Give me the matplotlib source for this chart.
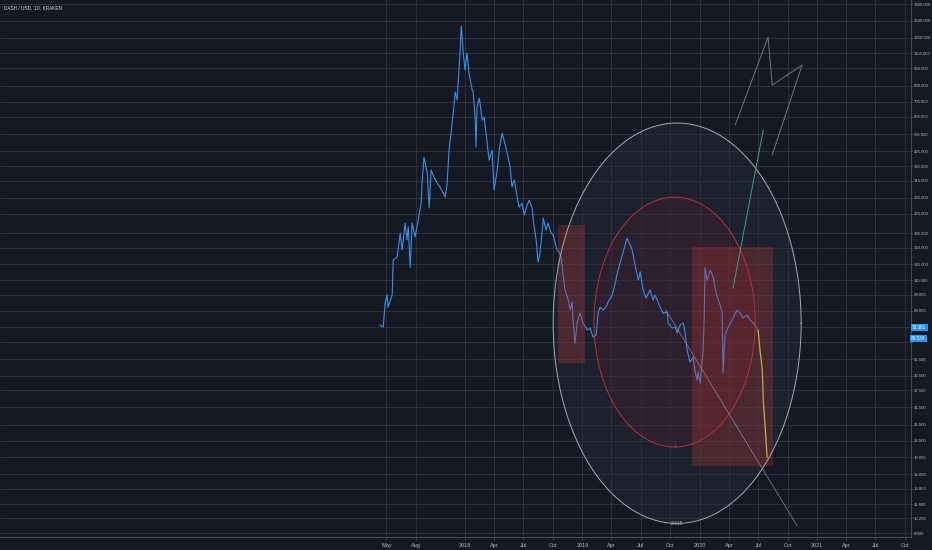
import numpy as np
import matplotlib
matplotlib.use('Agg')
import matplotlib.pyplot as plt
import matplotlib.dates as mdates
from matplotlib.patches import Rectangle
from matplotlib.transforms import blended_transform_factory

# DASH / USD close
dates = ['2017-04-11', '2017-04-21', '2017-04-27', '2017-05-03', '2017-05-06', '2017-05-19', '2017-05-22',
         '2017-06-03', '2017-06-13', '2017-06-19', '2017-06-28', '2017-07-04', '2017-07-08', '2017-07-14',
         '2017-07-20', '2017-07-29', '2017-08-08', '2017-08-17', '2017-08-20', '2017-08-26', '2017-09-05',
         '2017-09-11', '2017-09-17', '2017-09-23', '2017-10-06', '2017-10-15', '2017-10-31', '2017-11-06',
         '2017-11-12', '2017-11-25', '2017-12-01', '2017-12-07', '2017-12-16', '2017-12-20', '2017-12-26',
         '2018-01-01', '2018-01-07', '2018-01-13', '2018-01-23', '2018-01-26', '2018-02-01', '2018-02-04',
         '2018-02-07', '2018-02-14', '2018-02-23', '2018-03-01', '2018-03-07', '2018-03-14', '2018-03-17',
         '2018-03-26', '2018-04-01', '2018-04-11', '2018-04-17', '2018-04-26', '2018-05-02', '2018-05-12',
         '2018-05-21', '2018-05-27', '2018-06-03', '2018-06-12', '2018-06-18', '2018-06-27', '2018-07-04',
         '2018-07-13', '2018-07-19', '2018-07-29', '2018-08-01', '2018-08-10', '2018-08-16', '2018-08-22',
         '2018-08-29', '2018-09-01', '2018-09-10', '2018-09-16', '2018-09-26', '2018-10-02', '2018-10-14',
         '2018-10-21', '2018-10-27', '2018-11-02', '2018-11-08', '2018-11-18', '2018-11-24', '2018-11-30',
         '2018-12-03', '2018-12-09', '2018-12-16', '2018-12-25', '2019-01-03', '2019-01-16', '2019-01-25',
         '2019-02-03', '2019-02-13', '2019-02-19', '2019-02-25', '2019-03-07', '2019-03-19', '2019-03-22',
         '2019-04-04', '2019-04-13', '2019-04-22', '2019-04-29', '2019-05-05', '2019-05-14', '2019-05-20',
         '2019-05-30', '2019-06-05', '2019-06-14', '2019-06-24', '2019-06-30', '2019-07-09', '2019-07-18',
         '2019-07-31', '2019-08-09', '2019-08-15', '2019-08-22', '2019-08-31', '2019-09-09', '2019-09-22',
         '2019-09-25', '2019-10-07', '2019-10-17', '2019-10-23', '2019-11-01', '2019-11-11', '2019-11-17',
         '2019-11-23', '2019-12-02', '2019-12-12', '2019-12-18', '2019-12-24', '2019-12-27', '2020-01-03',
         '2020-01-09', '2020-01-12', '2020-01-15', '2020-01-18', '2020-01-24', '2020-02-03', '2020-02-12',
         '2020-02-18', '2020-02-28', '2020-03-05', '2020-03-11', '2020-03-14', '2020-03-20', '2020-03-30',
         '2020-04-11', '2020-04-21', '2020-04-27', '2020-05-06', '2020-05-15', '2020-05-28', '2020-06-06',
         '2020-06-16', '2020-06-25', '2020-07-01']
prices = [72.8, 71.3, 91.0, 98.8, 87.4, 98.8, 141,
          145, 185, 156, 205, 173, 197, 131,
          205, 178, 212, 251, 308, 401, 341,
          239, 352, 334, 308, 296, 267, 308,
          431, 628, 777, 716, 1155, 1519, 1155,
          971, 1155, 942, 793, 777, 603, 444,
          667, 731, 584, 603, 512, 418, 389,
          431, 287, 352, 431, 512, 477, 418,
          363, 296, 318, 267, 241, 251, 223,
          246, 259, 239, 212, 173, 138, 151,
          191, 216, 191, 205, 185, 182, 156,
          153, 144, 121, 104, 93.9, 84.7, 92.0,
          76.6, 60.6, 75.0, 82.2, 74.3, 69.2, 70.6,
          64.5, 65.8, 82.2, 87.4, 84.7, 89.2, 92.0,
          98.8, 111, 127, 138, 148, 164, 176,
          164, 156, 134, 115, 125, 104, 95.8,
          104, 93.9, 98.8, 93.9, 87.4, 82.2, 83.0,
          74.3, 70.6, 71.3, 67.1, 72.8, 74.3, 67.1,
          56.4, 50.0, 52.6, 45.2, 41.6, 45.2, 40.3,
          51.0, 56.4, 76.6, 131, 115, 127, 119,
          106, 93.9, 89.2, 83.0, 44.7, 65.8, 71.3,
          76.6, 82.2, 84.7, 82.2, 78.2, 80.6, 76.6,
          74.3, 71.3, 69.2]

# yellow drawn drop
proj_dates = ['2020-07-01', '2020-07-07', '2020-07-14', '2020-07-17', '2020-07-23', '2020-07-29']
proj_prices = [69.2, 56.4, 46.1, 34.0, 25.8, 19.0]

# right price scale (the two levels under the price tags carry no visible label)
y_ticks = [1900, 1600, 1350, 1150, 990, 830, 705, 605, 505, 425, 365, 315, 265, 225, 185, 160, 135,
           115, 99, 84, 71.5, 61.5, 51.5, 43.5, 37.5, 31.5, 26.5, 22.5, 19, 16, 13.8, 11.8, 10.2, 8.8]
hidden_ticks = [71.5, 61.5]

# time scale
x_ticks = ['2017-05-01', '2017-08-01', '2018-01-01', '2018-04-01', '2018-07-01', '2018-10-01',
           '2019-01-01', '2019-04-01', '2019-07-01', '2019-10-01', '2020-01-01', '2020-04-01',
           '2020-07-01', '2020-10-01', '2021-01-01', '2021-04-01', '2021-07-01', '2021-10-01']
x_labels = ['May', 'Aug', '2018', 'Apr', 'Jul', 'Oct', '2019', 'Apr', 'Jul', 'Oct',
            '2020', 'Apr', 'Jul', 'Oct', '2021', 'Apr', 'Jul', 'Oct']

# drawings on the chart: (left date, right date, low, high)
boxes = [('2018-10-17', '2019-01-09', 49.4, 201),
         ('2019-12-09', '2020-08-17', 17.4, 161)]
big_circle = ('2018-10-02', '2020-11-12', 9.7, 567)
red_circle = ('2019-02-06', '2020-06-22', 21.1, 267)
diag_dates = ['2019-09-18', '2020-10-30']
diag_prices = [84.7, 9.5]
teal_dates = ['2020-04-14', '2020-07-17']
teal_prices = [106, 528]
zig_dates = ['2020-04-21', '2020-08-01', '2020-08-14', '2020-11-15', '2020-08-14']
zig_prices = [556, 1359, 834, 1022, 410]

last_price = 70.361
tags = ['70.361', '69.534']

BG = '#151924'
GRID = '#2c313d'
TXT = '#b2b5be'


def num(d):
    return mdates.date2num(np.datetime64(d))


def draw_ellipse(ax, spec, edge, face, alpha, label, lcolor):
    left, right, low, high = spec
    x0, x1 = num(left), num(right)
    cx, rx = (x0 + x1) / 2, (x1 - x0) / 2
    cy, ry = (np.log(low) + np.log(high)) / 2, (np.log(high) - np.log(low)) / 2
    t = np.linspace(0, 2 * np.pi, 500)
    xs = cx + rx * np.cos(t)
    ys = np.exp(cy + ry * np.sin(t))
    ax.fill(xs, ys, color=face, alpha=alpha, lw=0, zorder=1)
    ax.plot(xs, ys, color=edge, lw=0.7, zorder=5)
    ax.text(cx, low, label, color=lcolor, fontsize=3.5, ha='center', va='center',
            family='Liberation Sans', zorder=6)


fig = plt.figure(figsize=(9.32, 5.5), dpi=100, facecolor=BG)
ax = fig.add_axes([0, 13 / 550, 911 / 932, 537 / 550], facecolor=BG)
ax.set_yscale('log')
ax.set_xlim(num('2014-01-14'), num('2021-10-20'))
ax.set_ylim(8.45, 1979)

draw_ellipse(ax, big_circle, '#a5aab5', '#6a7080', 0.10, '2.618', '#a5aab5')
draw_ellipse(ax, red_circle, '#b8323d', '#6a1a28', 0.22, '1', '#c0404a')

ax.plot(np.array(dates, dtype='datetime64[D]'), prices, color='#3a8ee6', lw=0.8, zorder=3)
ax.plot(np.array(proj_dates, dtype='datetime64[D]'), proj_prices, color='#c8e04a', lw=0.9, zorder=3)

for left, right, low, high in boxes:
    x0, x1 = num(left), num(right)
    ax.add_patch(Rectangle((x0, low), x1 - x0, high - low, facecolor='#b83535', alpha=0.30,
                           lw=0, zorder=4))

ax.plot(np.array(diag_dates, dtype='datetime64[D]'), diag_prices, color='#8a909b', lw=0.6,
        alpha=0.8, zorder=5)
ax.plot(np.array(teal_dates, dtype='datetime64[D]'), teal_prices, color='#3f9f86', lw=0.7, zorder=5)
ax.plot(np.array(zig_dates, dtype='datetime64[D]'), zig_prices, color='#6f7582', lw=0.7, zorder=5)

# axes styling
ax.yaxis.tick_right()
ax.set_yticks(y_ticks)
ax.set_yticklabels(['' if v in hidden_ticks else '%.3f' % v for v in y_ticks])
ax.yaxis.set_minor_locator(plt.NullLocator())
ax.set_xticks([num(d) for d in x_ticks])
ax.set_xticklabels(x_labels)
ax.tick_params(axis='y', colors=TXT, labelsize=3.05, length=1.2, pad=0.8, width=0.5)
ax.tick_params(axis='x', colors=TXT, labelsize=4.0, length=2, pad=2.5, width=0.5)
for lab in ax.get_xticklabels() + ax.get_yticklabels():
    lab.set_family('Liberation Sans')
ax.tick_params(axis='both', color='#4a4f5c')
ax.grid(True, color=GRID, lw=0.7)
for side in ['top', 'left']:
    ax.spines[side].set_visible(False)
for side in ['right', 'bottom']:
    ax.spines[side].set_color('#4a4f5c')
    ax.spines[side].set_linewidth(0.7)

# last price tags
trans = blended_transform_factory(ax.transAxes, ax.transData)
ax.annotate(tags[0], xy=(1.0, last_price), xycoords=trans, xytext=(1, 1), textcoords='offset pixels',
            ha='left', va='center', fontsize=3.3, color='white', family='Liberation Sans',
            bbox=dict(boxstyle='square,pad=0.3', fc='#2196f3', ec='none'), annotation_clip=False, zorder=10)
ax.annotate(tags[1], xy=(1.0, last_price), xycoords=trans, xytext=(0, -10), textcoords='offset pixels',
            ha='left', va='center', fontsize=3.3, color='white', family='Liberation Sans',
            bbox=dict(boxstyle='square,pad=0.3', fc='#2196f3', ec='none'), annotation_clip=False, zorder=10)

fig.text(4 / 932, 1 - 8 / 550, 'DASH / USD, 1D, KRAKEN', color='#d1d4dc', fontsize=3.4,
         family='Liberation Sans', ha='left', va='center')

fig.savefig('out.png', dpi=100, facecolor=BG)
